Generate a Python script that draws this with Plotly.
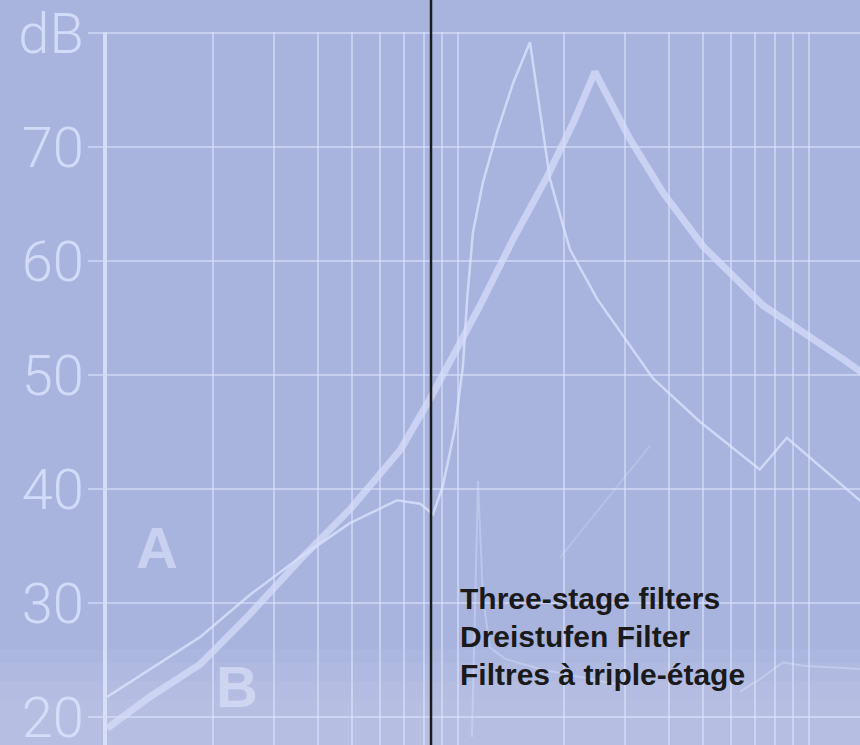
import plotly.graph_objects as go

# Frequency positions (log axis, arbitrary units: 10 at the y axis) and level in dB
freq_b = [10.0, 13.3, 18.4, 25.5, 35.5, 49.2, 68.4, 83.2, 115.6, 143.5, 179.5,
          212.8, 245.5, 309.0, 383.7, 498.9, 739.6, 961.6, 1250.0, 1445.0]
db_b = [19.0, 21.8, 24.6, 29.0, 33.8, 38.2, 43.4, 47.9, 56.1, 61.9, 67.4,
        72.1, 76.6, 70.7, 66.0, 61.3, 56.1, 53.8, 51.4, 50.0]

freq_a = [10.0, 18.4, 25.5, 35.5, 49.2, 67.0, 78.0, 84.9, 90.6, 98.0, 103.3,
          106.2, 110.3, 117.8, 129.2, 143.5, 160.3, 171.4, 182.8, 199.2, 208.5,
          248.9, 359.5, 489.0, 724.0, 865.0, 1445.0]
db_a = [21.75, 27.0, 30.7, 34.0, 37.0, 39.0, 38.7, 37.8, 40.3, 45.3, 50.8,
        56.7, 62.5, 66.9, 71.3, 75.6, 79.2, 73.3, 67.2, 63.1, 61.0,
        56.7, 49.7, 45.9, 41.7, 44.5, 38.6]

# faint third-stage trace (spike then low ripple)
freq_c = [109.6, 114.0, 117.8, 123.3, 136.1, 171.4, 222.8, 289.7, None,
          635.0, 739.6, 843.0, 961.6, 1396.0]
db_c = [18.25, 40.7, 30.5, 26.1, 25.1, 24.2, 23.5, 22.8, None,
        22.2, 23.5, 24.8, 24.5, 24.2]

freq_d = [195.4, 352.4]
db_d = [34.0, 43.8]

x_grid = [10, 20, 30, 40, 50, 60, 70, 80, 90,
          100, 200, 300, 400, 500, 600, 700, 800, 900, 1000]
y_ticks = [20, 30, 40, 50, 60, 70, 80]
y_labels = ["20", "30", "40", "50", "60", "70", "dB"]

captions = ["Three-stage filters", "Dreistufen Filter", "Filtres à triple-étage"]

BG = "#a8b4de"
GRID = "rgba(222,230,255,0.55)"
PALE = "rgba(222,230,255,0.72)"

fig = go.Figure()
fig.add_trace(go.Scatter(x=freq_d, y=db_d, mode="lines",
                         line=dict(color="rgba(222,230,255,0.22)", width=2)))
fig.add_trace(go.Scatter(x=freq_c, y=db_c, mode="lines", connectgaps=False,
                         line=dict(color="rgba(222,230,255,0.38)", width=2)))
fig.add_trace(go.Scatter(x=freq_a, y=db_a, mode="lines",
                         line=dict(color=PALE, width=2.5)))
fig.add_trace(go.Scatter(x=freq_b, y=db_b, mode="lines",
                         line=dict(color="rgba(214,222,250,0.72)", width=7)))

fig.update_xaxes(type="log", range=[1, 3.1453], tickvals=x_grid,
                 showticklabels=False, ticks="", showgrid=True, automargin=False,
                 gridcolor=GRID, gridwidth=2, zeroline=False, showline=False)
fig.update_yaxes(range=[17.54, 80.09], tickvals=y_ticks, ticktext=y_labels,
                 ticks="outside", ticklen=15, tickwidth=2, tickcolor=GRID,
                 ticklabelstandoff=-7, ticklabeloverflow="allow", automargin=False,
                 tickfont=dict(family="Roboto, Liberation Sans, sans-serif",
                               size=56, weight=300, color="rgba(222,230,255,0.78)"),
                 showgrid=True, gridcolor=GRID, gridwidth=2, zeroline=False,
                 showline=True, linewidth=4, linecolor="rgba(228,234,255,0.75)")

# lighter band along the bottom of the page, soft steps
for y1, a in [(0.135, 0.05), (0.115, 0.05), (0.09, 0.05), (0.065, 0.04)]:
    fig.add_shape(type="rect", xref="paper", yref="paper", x0=-0.15, x1=1.01,
                  y0=-0.01, y1=y1, fillcolor=f"rgba(255,255,255,{a})",
                  line=dict(width=0), layer="below")
# fold line
fig.add_shape(type="line", xref="paper", yref="paper", x0=0.4303, x1=0.4303,
              y0=-0.01, y1=1.06, line=dict(color="#1c1c1e", width=2.5),
              layer="above")

label_font = dict(family="Liberation Sans, Arial, sans-serif", size=58,
                  color="rgba(228,234,255,0.55)", weight="bold")
fig.add_annotation(text="A", xref="paper", yref="paper", x=0.0664, y=0.2767,
                   xanchor="center", yanchor="middle", showarrow=False,
                   font=label_font)
fig.add_annotation(text="B", xref="paper", yref="paper", x=0.1726, y=0.0815,
                   xanchor="center", yanchor="middle", showarrow=False,
                   font=label_font)

cap_font = dict(family="Liberation Sans, Arial, sans-serif", size=30,
                color="#1a1a1a", weight="bold")
for txt, yy in zip(captions, [0.2051, 0.1517, 0.0983]):
    fig.add_annotation(text=txt, xref="paper", yref="paper", x=0.466, y=yy,
                       xanchor="left", yanchor="middle", showarrow=False,
                       font=cap_font)

fig.update_layout(width=860, height=745, showlegend=False,
                  paper_bgcolor=BG, plot_bgcolor="rgba(0,0,0,0)",
                  margin=dict(l=107, r=0, t=32, b=0, autoexpand=False))

fig.write_html("out.html", config={"displayModeBar": False},
               post_script="document.body.style.margin='0';")
